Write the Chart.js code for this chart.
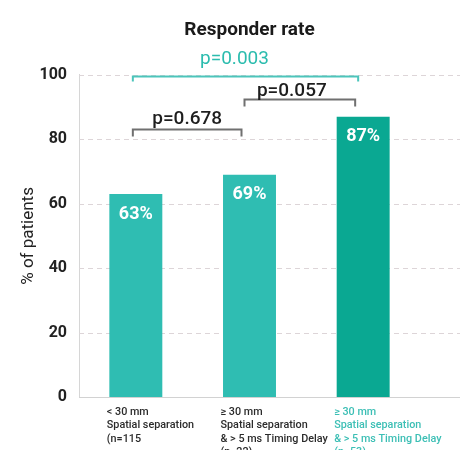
<!DOCTYPE html>
<html>
<head>
<meta charset="utf-8">
<script src="https://cdn.jsdelivr.net/npm/chart.js@4"></script>
<style>
  html, body { margin: 0; padding: 0; background: #fff; }
  canvas { display: block; }
</style>
</head>
<body>
<canvas id="responderChart" width="462" height="450"></canvas>
<script>
    const categories = [
      ['< 30 mm', 'Spatial separation', '(n=115'],
      ['≥ 30 mm', 'Spatial separation', '& > 5 ms Timing Delay', '(n=22)'],
      ['≥ 30 mm', 'Spatial separation', '& > 5 ms Timing Delay', '(n=53)']
    ];
    const responderRates = [63, 69, 87];
    const yTicks = [0, 20, 40, 60, 80, 100];

    // p-value comparisons between groups
    const pLabels = ['p=0.678', 'p=0.057', 'p=0.003'];
    const pFrom = [0, 1, 0];
    const pTo = [1, 2, 2];
    const pLevels = [83, 92.3, 99.5];

    const barColors = ['#2fbdb2', '#2fbdb2', '#0aa892'];

    // how each bracket is drawn
    const bracketStyle = [
      { dx1: -3, dx2: -8, drop: 7, gap: 6, tdx: 0, line: '#707070', text: '#1e1e1e', font: '500 19px Roboto', width: 2 },
      { dx1: -5, dx2: -8, drop: 7, gap: 4, tdx: -8, line: '#707070', text: '#1e1e1e', font: '500 19px Roboto', width: 2 },
      { dx1: -3, dx2: -5, drop: 5, gap: 12, tdx: -11, line: '#4cc5bb', text: '#2bbcae', font: '400 19px Roboto', width: 2 }
    ];

    const extras = {
      id: 'extras',
      beforeDatasetsDraw(chart) {
        const { ctx, chartArea, scales: { y } } = chart;
        ctx.save();
        ctx.lineWidth = 1;
        yTicks.forEach(v => {
          const py = Math.round(y.getPixelForValue(v)) + 0.5;
          if (v === 0) {
            ctx.setLineDash([]);
            ctx.strokeStyle = '#d2d2d2';
          } else {
            ctx.setLineDash([5, 4]);
            ctx.strokeStyle = '#ddd5d8';
          }
          ctx.beginPath();
          ctx.moveTo(chartArea.left, py);
          ctx.lineTo(chart.width - 2, py);
          ctx.stroke();
        });
        ctx.restore();
      },
      afterDatasetsDraw(chart) {
        const { ctx, scales: { x, y } } = chart;
        const meta = chart.getDatasetMeta(0);
        ctx.save();

        // values inside the bars
        ctx.fillStyle = '#ffffff';
        ctx.font = '700 18px Roboto';
        ctx.textAlign = 'center';
        ctx.textBaseline = 'middle';
        meta.data.forEach((bar, i) => {
          ctx.fillText(responderRates[i] + '%', bar.x, bar.y + 20);
        });

        // significance brackets
        pLabels.forEach((label, i) => {
          const s = bracketStyle[i];
          const x1 = x.getPixelForValue(pFrom[i]) + s.dx1;
          const x2 = x.getPixelForValue(pTo[i]) + s.dx2;
          const py = y.getPixelForValue(pLevels[i]);
          ctx.strokeStyle = s.line;
          ctx.lineWidth = s.width;
          ctx.beginPath();
          ctx.moveTo(x1, py + s.drop);
          ctx.lineTo(x1, py);
          ctx.lineTo(x2, py);
          ctx.lineTo(x2, py + s.drop);
          ctx.stroke();

          ctx.fillStyle = s.text;
          ctx.font = s.font;
          ctx.textBaseline = 'alphabetic';
          ctx.fillText(label, (x1 + x2) / 2 + s.tdx, py - s.gap);
        });
        ctx.restore();
      }
    };

    const ctx = document.getElementById('responderChart').getContext('2d');
    const chart = new Chart(ctx, {
      type: 'bar',
      data: {
        labels: categories,
        datasets: [{
          label: 'Responder rate',
          data: responderRates,
          backgroundColor: barColors,
          barPercentage: 0.466,
          categoryPercentage: 1
        }]
      },
      options: {
        responsive: false,
        animation: false,
        layout: {
          padding: { top: 19, right: 42, left: 0, bottom: 0 }
        },
        plugins: {
          legend: { display: false },
          tooltip: { enabled: false },
          title: {
            display: true,
            text: 'Responder rate',
            fullSize: false,
            color: '#1a1a1a',
            font: { family: 'Roboto', size: 19, weight: '700' },
            padding: { top: 0, bottom: 33 }
          }
        },
        scales: {
          x: {
            grid: { display: false, drawTicks: false },
            border: { display: false },
            ticks: {
              autoSkip: false,
              maxRotation: 0,
              align: 'start',
              labelOffset: -29,
              padding: 9,
              color: c => c.index === 2 ? '#3cbfb5' : '#2b2b2b',
              font: { family: 'Roboto', size: 10.8, weight: '500', lineHeight: 1.22 }
            },
            afterFit: scale => {
              scale.height = 53;
              // labels may run past the right edge, as in the original
              scale.paddingLeft = 0;
              scale.paddingRight = 0;
            }
          },
          y: {
            min: 0,
            max: 100,
            grid: { display: false, drawTicks: false },
            border: { display: true, color: '#d6d6d6' },
            ticks: {
              stepSize: 20,
              padding: 12,
              color: '#222',
              font: { family: 'Roboto', size: 16, weight: '700' }
            },
            title: {
              display: true,
              text: '% of patients',
              color: '#222',
              font: { family: 'Roboto', size: 17, weight: '400' },
              padding: { top: 19, bottom: 0 }
            },
            afterFit: scale => { scale.width = 79; }
          }
        }
      },
      plugins: [extras]
    });
</script>
</body>
</html>
